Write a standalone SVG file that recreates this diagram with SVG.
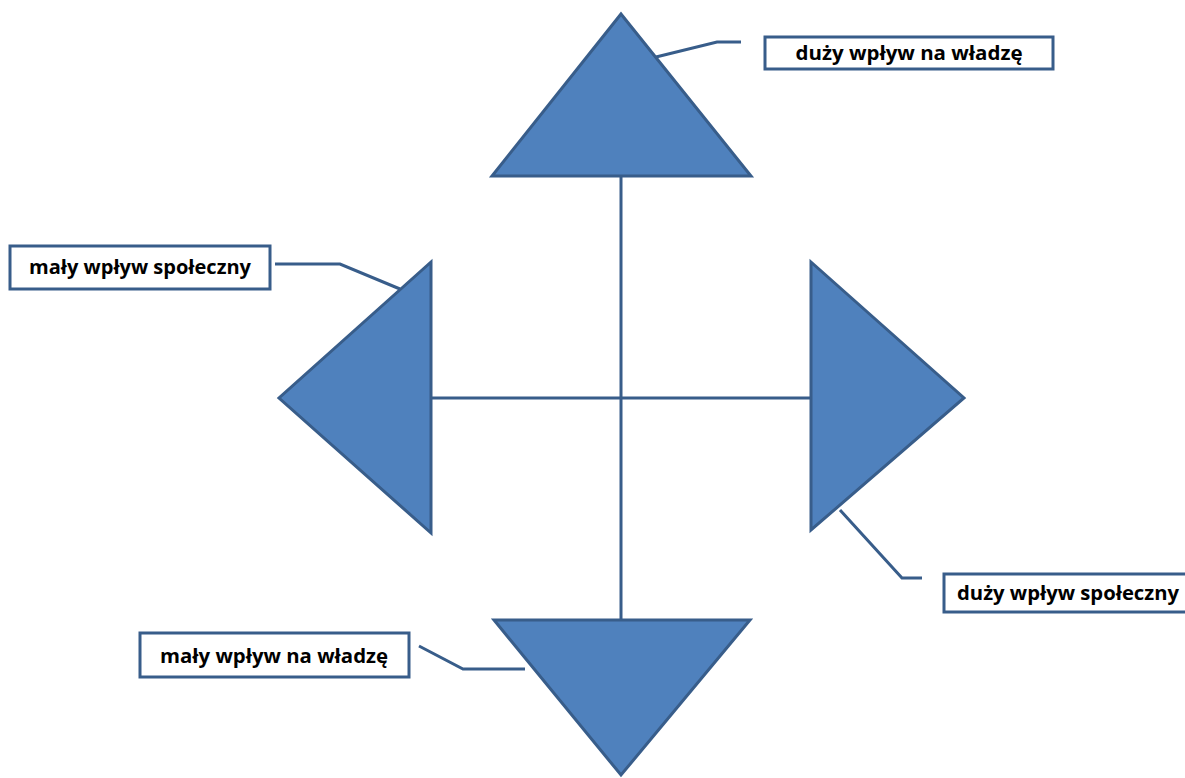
<svg xmlns="http://www.w3.org/2000/svg" width="1185" height="778" viewBox="0 0 1185 778">
<style>
.tri{fill:#4F81BD;stroke:#385D8A;stroke-width:3;stroke-linejoin:miter}
.ln{fill:none;stroke:#385D8A;stroke-width:3}
.box{fill:#FFFFFF;stroke:#385D8A;stroke-width:3}
.lbl{font-family:"Open Sans","Liberation Sans",sans-serif;font-weight:bold;font-size:19.5px;fill:#000;text-anchor:middle}
</style>
<rect width="1185" height="778" fill="#FFFFFF"/>
<g id="connectors">
<line class="ln" x1="621" y1="176" x2="621" y2="620"/>
<line class="ln" x1="431" y1="398" x2="811" y2="398"/>
<polyline class="ln" points="656,57 717,42 741,42"/>
<polyline class="ln" points="275,264 340,264 400,289"/>
<polyline class="ln" points="840,510 902,578 922,578"/>
<polyline class="ln" points="419,646 463,669 525,669"/>
</g>
<g id="tri-top"><polygon class="tri" points="621,14 751,176 492,176"/></g>
<g id="tri-left"><polygon class="tri" points="431,262 431,533 279,398"/></g>
<g id="tri-right"><polygon class="tri" points="811,262 964,398 811,530"/></g>
<g id="tri-bottom"><polygon class="tri" points="494,620 750,620 621,775"/></g>
<g id="label-top"><rect class="box" x="765" y="37" width="288" height="32"/><text class="lbl" x="909" y="60" textLength="227" lengthAdjust="spacingAndGlyphs">duży wpływ na władzę</text></g>
<g id="label-left"><rect class="box" x="10" y="246" width="260" height="43"/><text class="lbl" x="140" y="274" textLength="222" lengthAdjust="spacingAndGlyphs">mały wpływ społeczny</text></g>
<g id="label-right"><rect class="box" x="944" y="574" width="245" height="38"/><text class="lbl" x="1068" y="600" textLength="222" lengthAdjust="spacingAndGlyphs">duży wpływ społeczny</text></g>
<g id="label-bottom"><rect class="box" x="140" y="633" width="269" height="44"/><text class="lbl" x="274" y="663" textLength="228" lengthAdjust="spacingAndGlyphs">mały wpływ na władzę</text></g>
</svg>
